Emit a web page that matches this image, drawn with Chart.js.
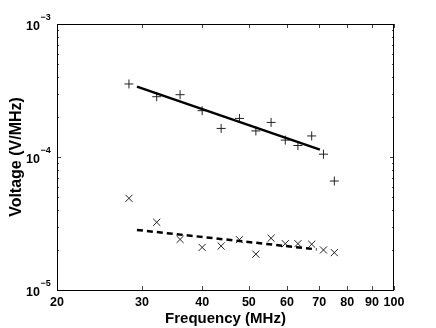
<!DOCTYPE html>
<html>
<head>
<meta charset="utf-8">
<script src="https://cdn.jsdelivr.net/npm/chart.js@4"></script>
<style>
  body { margin: 0; background: #fff; }
</style>
</head>
<body>
<canvas id="volt-chart" width="436" height="328"></canvas>
<script>
'use strict';

// frequencies (MHz) of the measured points
const freqs = [28.2, 32.2, 36.0, 40.0, 43.8, 47.8, 51.7, 55.6, 59.5, 63.2, 67.5, 71.4, 75.2];
// '+' series
const voltPlus = [3.54e-4, 2.84e-4, 2.94e-4, 2.23e-4, 1.64e-4, 1.95e-4, 1.57e-4, 1.82e-4, 1.34e-4, 1.22e-4, 1.44e-4, 1.05e-4, 6.6e-5];
// 'x' series
const voltCross = [4.89e-5, 3.23e-5, 2.40e-5, 2.09e-5, 2.14e-5, 2.39e-5, 1.86e-5, 2.45e-5, 2.23e-5, 2.23e-5, 2.21e-5, 2.0e-5, 1.91e-5];

// fitted lines
const fitPlusFreq = [29.3, 70.2];
const fitPlusVolt = [3.38e-4, 1.135e-4];
const fitCrossFreq = [29.3, 69.1];
const fitCrossVolt = [2.83e-5, 2.02e-5];

const xTicks = [20, 30, 40, 50, 60, 70, 80, 90, 100];
const yDecades = [-5, -4, -3];

const fontFam = '"Liberation Sans", Arial, Helvetica, sans-serif';


function toPoints(xs, ys) {
    return xs.map((x, i) => ({x: x, y: ys[i]}));
}


// box, inward ticks and the 10^n labels, drawn like matlab does
const boxPlugin = {
    id: 'box',
    afterDraw(chart) {
	const ctx = chart.ctx;
	const area = chart.chartArea;
	const xs = chart.scales.x;
	const ys = chart.scales.y;

	ctx.save();
	ctx.strokeStyle = '#444';
	ctx.lineWidth = 1;
	ctx.beginPath();
	xTicks.forEach(v => {
	    const px = Math.round(xs.getPixelForValue(v)) + 0.5;
	    ctx.moveTo(px, area.bottom);
	    ctx.lineTo(px, area.bottom - 4);
	    ctx.moveTo(px, area.top);
	    ctx.lineTo(px, area.top + 4);
	});
	yDecades.forEach(e => {
	    for (let k = 1; k < 10; k++) {
		if (e === -3 && k > 1) break;
		const len = k === 1 ? 4 : 2;
		const py = Math.round(ys.getPixelForValue(k * Math.pow(10, e))) + 0.5;
		ctx.moveTo(area.left, py);
		ctx.lineTo(area.left + len, py);
		ctx.moveTo(area.right, py);
		ctx.lineTo(area.right - len, py);
	    }
	});
	ctx.stroke();

	ctx.strokeStyle = '#000';
	ctx.strokeRect(area.left + 0.5, area.top + 0.5, area.right - area.left - 1, area.bottom - area.top);

	ctx.fillStyle = '#000';
	ctx.textBaseline = 'alphabetic';
	yDecades.forEach(e => {
	    const py = ys.getPixelForValue(Math.pow(10, e));
	    ctx.font = 'bold 12.5px ' + fontFam;
	    ctx.textAlign = 'right';
	    ctx.fillText('10', 40, py + 6);
	    ctx.font = 'bold 9px ' + fontFam;
	    ctx.textAlign = 'left';
	    ctx.fillText('\u2212' + String(-e), 40.5, py - 4);
	});
	ctx.restore();
    },
};


const chartData = {
    datasets: [{
	label: 'fit +',
	data: toPoints(fitPlusFreq, fitPlusVolt),
	showLine: true,
	borderColor: '#000',
	borderWidth: 2.5,
	pointRadius: 0,
    }, {
	label: 'fit x',
	data: toPoints(fitCrossFreq, fitCrossVolt),
	showLine: true,
	borderColor: '#000',
	borderWidth: 2.5,
	borderDash: [6, 4],
	pointRadius: 0,
    }, {
	label: 'plus',
	data: toPoints(freqs, voltPlus),
	pointStyle: 'cross',
	pointRadius: 4.5,
	borderColor: '#222',
	borderWidth: 1,
    }, {
	label: 'cross',
	data: toPoints(freqs, voltCross),
	pointStyle: 'crossRot',
	pointRadius: 5,
	borderColor: '#222',
	borderWidth: 1,
    }],
};


const chartConfig = {
    type: 'scatter',
    data: chartData,
    plugins: [boxPlugin],
    options: {
	responsive: false,
	animation: false,
	devicePixelRatio: 1,
	layout: {
	    padding: {top: 24, right: 42, left: 0, bottom: 0},
	},
	plugins: {
	    legend: {display: false},
	    tooltip: {enabled: false},
	},
	scales: {
	    x: {
		type: 'logarithmic',
		min: 20,
		max: 100,
		afterBuildTicks: scale => {
		    scale.ticks = xTicks.map(v => ({value: v}));
		},
		afterFit: scale => {
		    scale.height = 38;
		},
		grid: {display: false, drawTicks: false},
		border: {display: false},
		ticks: {
		    autoSkip: false,
		    maxRotation: 0,
		    padding: 5,
		    color: '#000',
		    font: {family: fontFam, size: 12.5, weight: 'bold'},
		    callback: val => String(val),
		},
		title: {
		    display: true,
		    text: 'Frequency (MHz)',
		    color: '#000',
		    padding: {top: 0, bottom: 0.5},
		    font: {family: fontFam, size: 15, weight: 'bold'},
		},
	    },
	    y: {
		type: 'logarithmic',
		min: 1e-5,
		max: 1e-3,
		afterFit: scale => {
		    scale.width = 57;
		},
		grid: {display: false, drawTicks: false},
		border: {display: false},
		ticks: {display: false},
		title: {
		    display: true,
		    text: 'Voltage (V/MHz)',
		    color: '#000',
		    padding: {top: 6.5, bottom: 0},
		    font: {family: fontFam, size: 16, weight: 'bold'},
		},
	    },
	},
    },
};


const voltChart = new Chart(document.querySelector('#volt-chart'), chartConfig);
</script>
</body>
</html>
